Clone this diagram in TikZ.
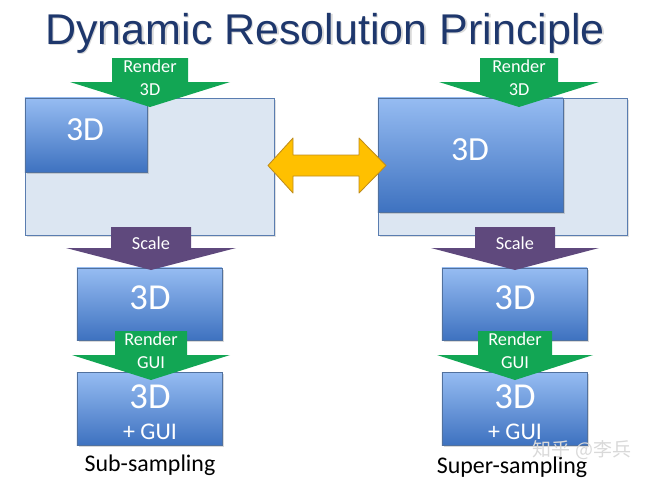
\documentclass[tikz,border=0pt]{standalone}
\usepackage{fontspec}
\setmainfont{Carlito}
\newfontfamily\titlefont{Liberation Sans}
\newfontfamily\cjk{Noto Sans CJK SC}
\usetikzlibrary{shadows}
\definecolor{titleblue}{RGB}{30,55,108}
\definecolor{framefill}{RGB}{220,230,242}
\definecolor{frameline}{RGB}{90,125,176}
\definecolor{boxtop}{RGB}{150,188,242}
\definecolor{boxbot}{RGB}{62,114,192}
\definecolor{arrgreen}{RGB}{18,166,84}
\definecolor{arrpurple}{RGB}{95,73,125}
\definecolor{arryellow}{RGB}{255,192,0}
\definecolor{arryline}{RGB}{190,140,30}

% block arrow pointing down: colour, centre x, top y, shaft half width, wing half width, wing y, tip y
\newcommand{\blockarr}[7]{%
  \fill[#1] (#2-#4,#3) -- (#2+#4,#3) -- (#2+#4,#6) -- (#2+#5,#6) -- (#2,#7)
    -- (#2-#5,#6) -- (#2-#4,#6) -- cycle;}

\begin{document}
\begin{tikzpicture}[x=0.025cm,y=-0.025cm]
\tikzset{frame/.style = {draw=frameline,fill=framefill,line width=0.6pt,
  drop shadow={shadow xshift=0.6mm,shadow yshift=-0.6mm,opacity=0.25}}}
\tikzset{box/.style = {draw=frameline!90!black,line width=0.5pt,top color=boxtop,bottom color=boxbot,
  text=white,inner sep=0pt,
  drop shadow={shadow xshift=0.6mm,shadow yshift=-0.6mm,opacity=0.3}}}
\tikzset{arrtext/.style = {text=white,align=center,font=\fontsize{13}{16.5}\selectfont}}
\tikzset{caption/.style = {text=black,font=\fontsize{17}{20}\selectfont}}
\useasboundingbox (0,0) rectangle (650,482);
% title
\node[text=gray!30,font=\titlefont\fontsize{30.6}{36}\selectfont] (titleshadow) at (326.5,34.5) {Dynamic Resolution Principle};
\node[text=titleblue,font=\titlefont\fontsize{30.6}{36}\selectfont] (title) at (325,33) {Dynamic Resolution Principle};
% frames
\node[frame,minimum width=6.225cm,minimum height=3.425cm] (frameL) at (149.5,166.5) {};
\node[frame,minimum width=6.225cm,minimum height=3.425cm] (frameR) at (502.5,166.5) {};
% boxes
\node[box,minimum width=3.05cm,minimum height=1.85cm] (topL) at (86,135) {};
\node[text=white,font=\fontsize{24}{28}\selectfont] (topLtext) at (85,130) {3D};
\node[box,minimum width=4.625cm,minimum height=2.85cm] (topR) at (470.5,155) {};
\node[text=white,font=\fontsize{24}{28}\selectfont] (topRtext) at (470,150) {3D};
\node[box,minimum width=3.625cm,minimum height=1.8cm] (midL) at (149.5,304) {};
\node[text=white,font=\fontsize{26}{30}\selectfont] (midLtext) at (150,298) {3D};
\node[box,minimum width=3.625cm,minimum height=1.8cm] (midR) at (514.5,304) {};
\node[text=white,font=\fontsize{26}{30}\selectfont] (midRtext) at (515,298) {3D};
\node[box,minimum width=3.625cm,minimum height=1.825cm] (botL) at (149.5,408.5) {};
\node[text=white,font=\fontsize{26}{30}\selectfont] (botLtext) at (150,397) {3D};
\node[text=white,font=\fontsize{17}{20}\selectfont] (botLgui) at (150,432) {+ GUI};
\node[box,minimum width=3.625cm,minimum height=1.825cm] (botR) at (514.5,408.5) {};
\node[text=white,font=\fontsize{26}{30}\selectfont] (botRtext) at (515,397) {3D};
\node[text=white,font=\fontsize{17}{20}\selectfont] (botRgui) at (515,432) {+ GUI};
% arrows
\blockarr{arrgreen}{150}{58}{38}{80}{82}{107}
\node[arrtext] (render3dL) at (150,78) {Render\\3D};
\blockarr{arrgreen}{519}{58}{39}{80}{82}{107}
\node[arrtext] (render3dR) at (519,78) {Render\\3D};
\blockarr{arrpurple}{151}{227}{40}{85}{248}{270}
\node[arrtext] (scaleL) at (151,243) {Scale};
\blockarr{arrpurple}{515}{227}{40}{84}{248}{270}
\node[arrtext] (scaleR) at (515,243) {Scale};
\blockarr{arrgreen}{151}{331}{36}{79}{355}{380}
\node[arrtext] (renderguiL) at (151,350.5) {Render\\GUI};
\blockarr{arrgreen}{515}{331}{37}{78}{355}{380}
\node[arrtext] (renderguiR) at (515,350.5) {Render\\GUI};
% double arrow
\draw[fill=arryellow,draw=arryline,line width=0.6pt,line join=round]
  (268,165.5) -- (293,138) -- (293,155) -- (359,155) -- (359,138) -- (386,165.5)
  -- (359,193) -- (359,176) -- (293,176) -- (293,193) -- cycle;
% captions
\node[caption] (sub) at (150,465) {Sub-sampling};
\node[caption] (super) at (512,467) {Super-sampling};
\node[text=gray!30,font=\cjk\fontsize{13.5}{16}\selectfont] (mark) at (582,450) {知乎 @李兵};
\end{tikzpicture}
\end{document}
